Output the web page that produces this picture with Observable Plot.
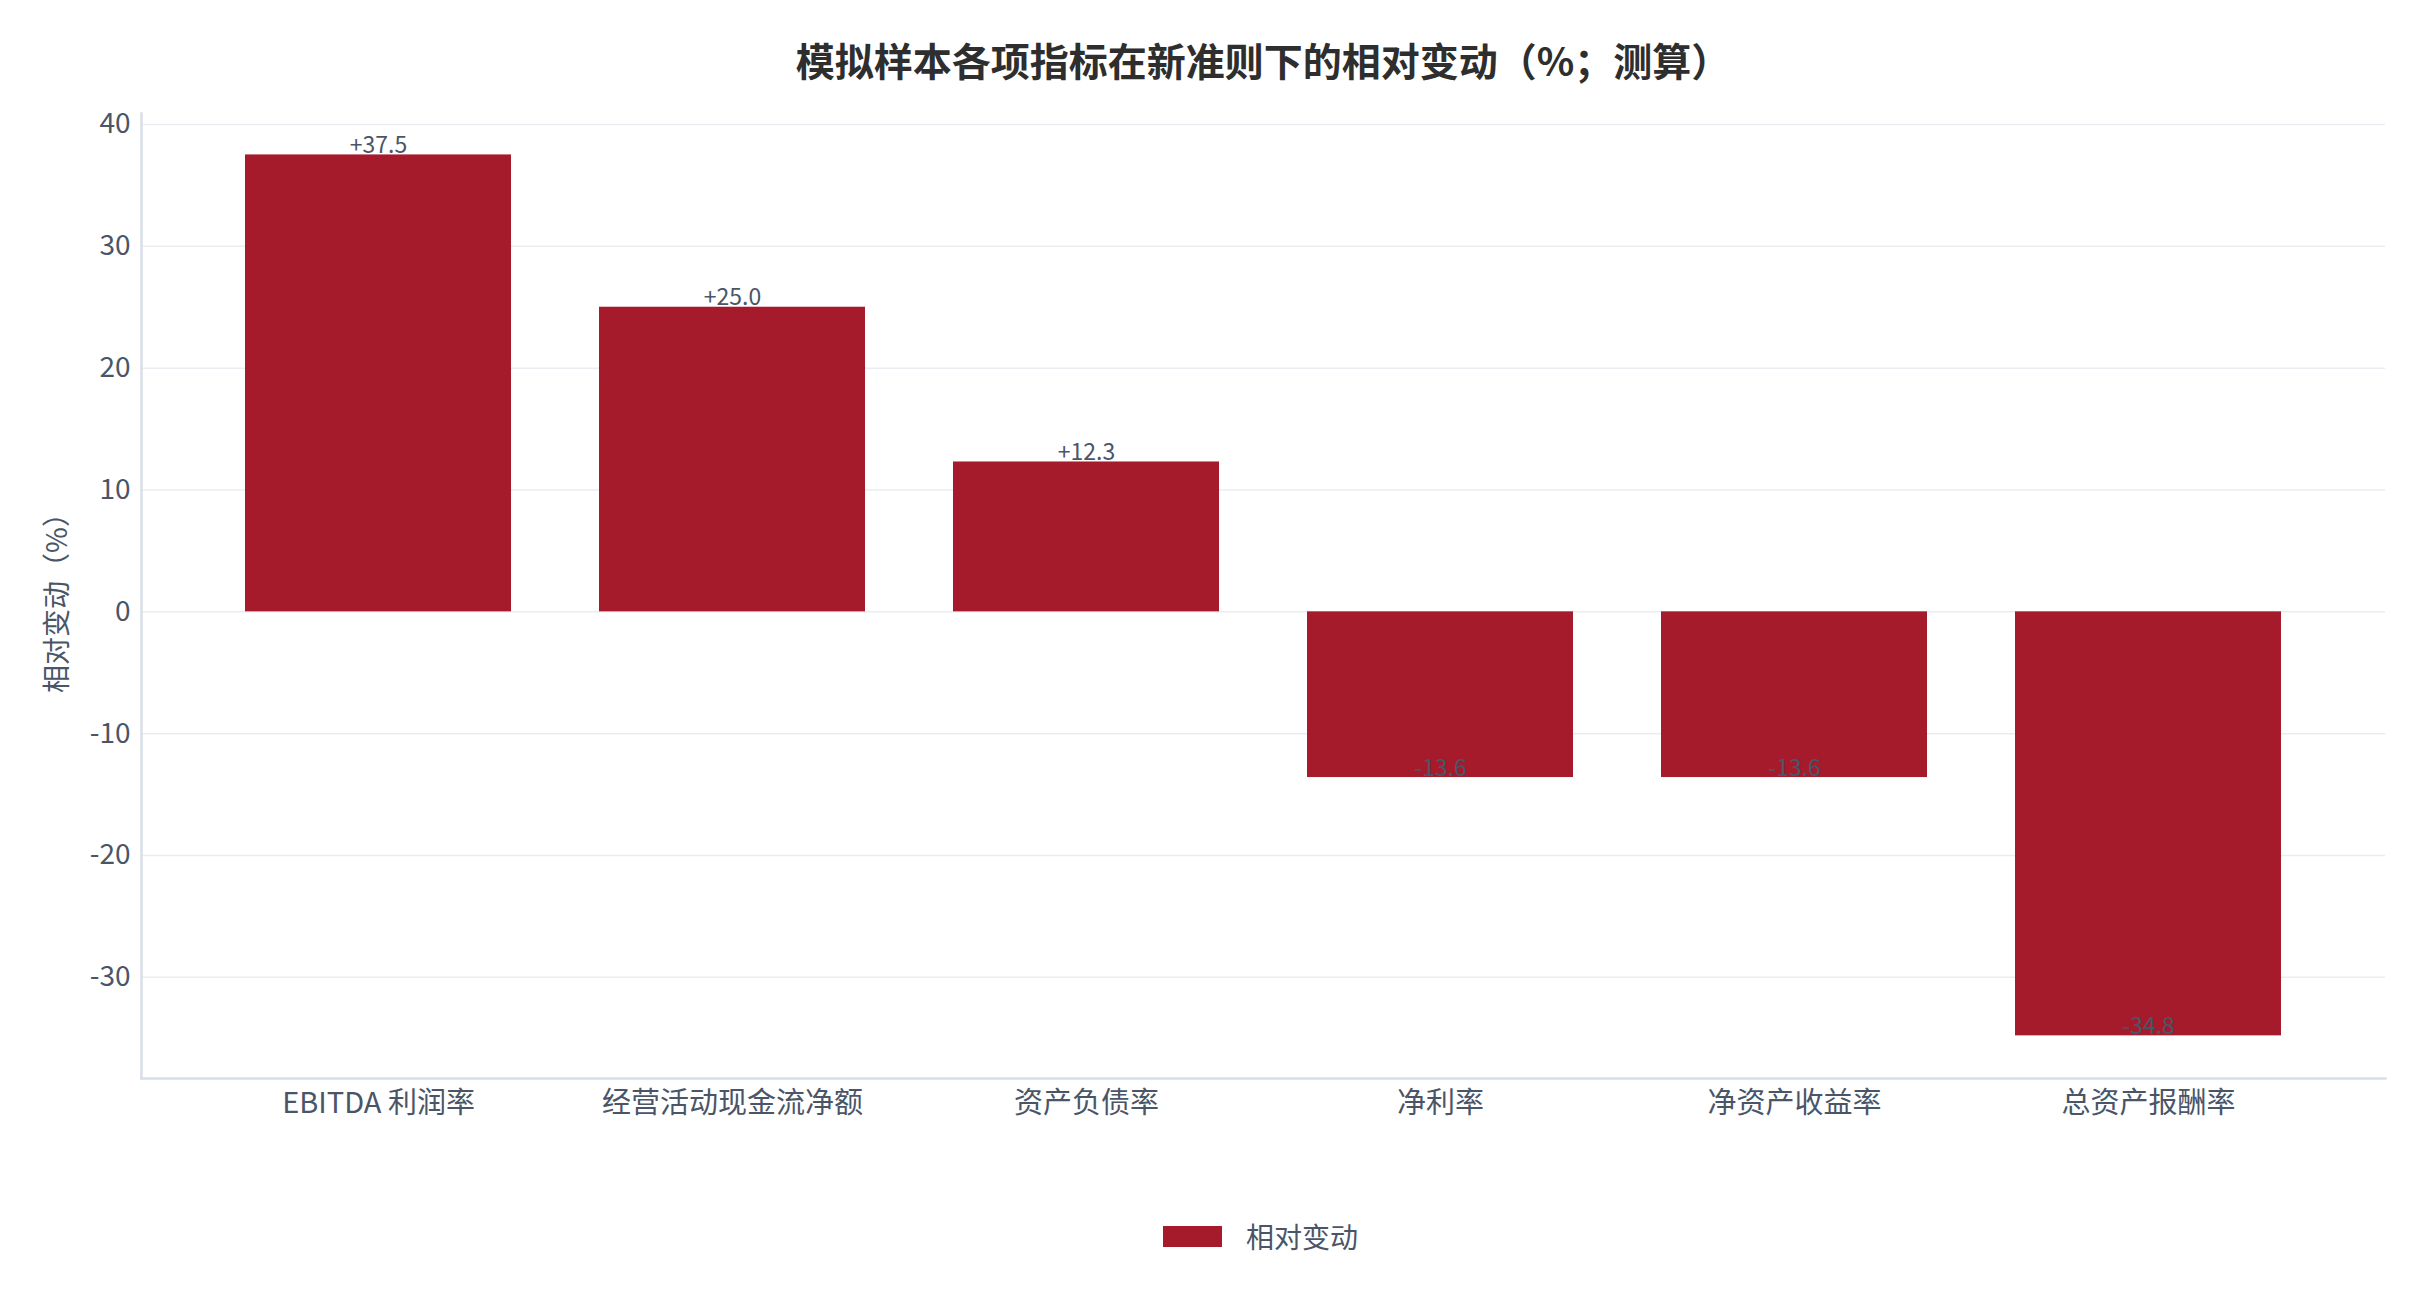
<!DOCTYPE html>
<html>
<head>
<meta charset="utf-8">
<script src="https://cdn.jsdelivr.net/npm/d3@7"></script>
<script src="https://cdn.jsdelivr.net/npm/@observablehq/plot@0.6"></script>
<style>
  html, body { margin: 0; padding: 0; background: #ffffff; }
  body { width: 2428px; height: 1305px; font-family: "Noto Sans CJK SC", "Noto Sans", sans-serif; overflow: hidden; }
  #title { box-sizing: border-box; height: 100px; padding-top: 37px; padding-left: 141px; padding-right: 43px;
           text-align: center; font-size: 39px; line-height: 44px; font-weight: 700; color: #2e2e2e; }
  #chart svg { display: block; }
  #legend { box-sizing: border-box; margin-top: 91px; padding-left: 136px; padding-right: 43px; height: 30px;
            display: flex; justify-content: center; align-items: center; gap: 24px; }
  #legend .sw { width: 59px; height: 21px; }
  #legend .lab { font-size: 28px; line-height: 30px; color: #4a5568; }
</style>
</head>
<body>
<div id="title"></div>
<div id="chart"></div>
<div id="legend"></div>
<script>
const chartTitle = "模拟样本各项指标在新准则下的相对变动（%；测算）";
const yAxisTitle = "相对变动（%）";
const seriesName = "相对变动";
const categories = ["EBITDA 利润率", "经营活动现金流净额", "资产负债率", "净利率", "净资产收益率", "总资产报酬率"];
const values = [37.5, 25.0, 12.3, -13.6, -13.6, -34.8];
const yTicks = [-30, -20, -10, 0, 10, 20, 30, 40];

const barColor = "#a61b2b";
const textColor = "#4a5568";
const fontFamily = "'Noto Sans CJK SC', 'Noto Sans', sans-serif";

const data = categories.map((c, i) => ({cat: c, value: values[i]}));
const fmt = v => (v > 0 ? "+" : "") + v.toFixed(1);

document.getElementById("title").textContent = chartTitle;

const plot = Plot.plot({
  width: 2428,
  height: 1030,
  marginTop: 13,
  marginBottom: 52,
  marginLeft: 141,
  marginRight: 43,
  style: {fontFamily, fontSize: "28px", color: textColor, background: "transparent", overflow: "visible"},
  x: {domain: categories, paddingInner: 0.25, paddingOuter: 0.289, label: null},
  y: {domain: [-38.3, 40.9], label: null},
  marks: [
    Plot.gridY(yTicks, {stroke: "#e9edf2", strokeOpacity: 1, strokeWidth: 1.5}),
    Plot.barY(data, {x: "cat", y: "value", fill: barColor}),
    Plot.frame({anchor: "left", stroke: "#d8dee7", strokeWidth: 2.5}),
    Plot.frame({anchor: "bottom", stroke: "#d8dee7", strokeWidth: 2.5}),
    Plot.axisY({ticks: yTicks, tickSize: 0, tickPadding: 11, tickFormat: d => String(d), fontSize: 28, label: null}),
    Plot.axisX({tickSize: 0, tickPadding: 14, fontSize: 29, label: null}),
    Plot.text(data, {x: "cat", y: "value", text: d => fmt(d.value), lineAnchor: "bottom", dy: -2, fontSize: 23, fill: textColor}),
    Plot.text([yAxisTitle], {frameAnchor: "left", textAnchor: "middle", rotate: -90, dx: -83, fontSize: 28, fill: textColor})
  ]
});
document.getElementById("chart").appendChild(plot);

const legend = document.getElementById("legend");
const sw = document.createElement("div");
sw.className = "sw";
sw.style.background = barColor;
const lab = document.createElement("div");
lab.className = "lab";
lab.textContent = seriesName;
legend.appendChild(sw);
legend.appendChild(lab);
</script>
</body>
</html>
